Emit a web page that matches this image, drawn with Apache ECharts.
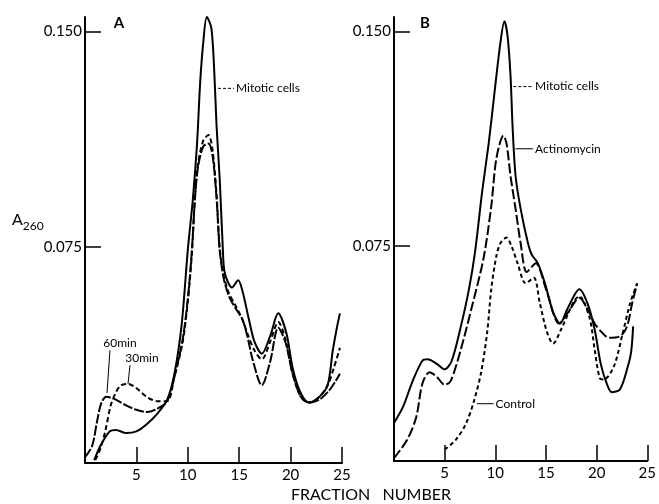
<!DOCTYPE html>
<html>
<head>
<meta charset="utf-8">
<script src="https://cdn.jsdelivr.net/npm/echarts@6/dist/echarts.min.js"></script>
<style>
  html, body { margin: 0; background: #fff; }
  #chart { width: 659px; height: 504px; }
</style>
</head>
<body>
<div id="chart"></div>
<script>
  // [fraction number, A260]
  const aMitotic = [[0.9,0.001],[1.5,0.006],[2.4,0.011],[3,0.0115],[4,0.0104],[5,0.011],[6,0.0135],[7,0.017],[8,0.022],[8.7,0.031],[9.4,0.048],[10,0.074],[10.5,0.092],[10.9,0.111],[11.2,0.132],[11.5,0.146],[11.85,0.155],[12.3,0.151],[12.6,0.134],[12.8,0.117],[13.1,0.099],[13.4,0.075],[13.6,0.066],[14.3,0.061],[14.9,0.0635],[15.3,0.060],[16.0,0.049],[16.5,0.042],[17.2,0.038],[18.0,0.044],[18.8,0.052],[19.6,0.045],[20.2,0.033],[20.9,0.025],[21.8,0.021],[22.8,0.023],[23.6,0.027],[24.1,0.039],[24.5,0.047],[24.8,0.052]];
  const a60min = [[0,0.002],[0.7,0.006],[1.2,0.015],[1.6,0.021],[2.1,0.023],[3,0.022],[4,0.020],[5,0.0185],[6,0.0177],[7,0.0188],[8,0.0215],[8.7,0.030],[9.5,0.043],[10,0.057],[10.4,0.074],[10.7,0.092],[11.0,0.103],[11.5,0.110],[12.0,0.111],[12.4,0.107],[12.8,0.092],[13.1,0.074],[13.5,0.064],[14.0,0.058],[14.6,0.054],[15.3,0.050],[15.8,0.044],[16.3,0.036],[17.2,0.027],[18.0,0.035],[18.8,0.047],[19.5,0.042],[20.2,0.031],[21.0,0.023],[21.8,0.021],[22.8,0.022],[23.7,0.025],[24.3,0.028],[24.8,0.031]];
  const a30min = [[1.0,0.001],[1.5,0.005],[2.0,0.0115],[2.5,0.020],[3.0,0.0245],[3.5,0.027],[4.2,0.0275],[5,0.026],[6,0.023],[7,0.0215],[8,0.0215],[8.7,0.030],[9.5,0.042],[10,0.056],[10.4,0.073],[10.7,0.093],[11.0,0.104],[11.5,0.112],[12.0,0.114],[12.4,0.109],[12.8,0.093],[13.1,0.075],[13.5,0.065],[14.0,0.059],[14.6,0.055],[15.3,0.050],[15.8,0.045],[16.5,0.039],[17.2,0.036],[18.0,0.042],[18.8,0.049],[19.5,0.043],[20.2,0.031],[21.0,0.023],[21.8,0.021],[22.8,0.023],[23.6,0.027],[24.2,0.033],[24.8,0.040]];

  const bMitotic = [[0,0.0133],[0.9,0.019],[1.85,0.028],[2.8,0.035],[3.3,0.0355],[4.2,0.034],[5.0,0.032],[5.7,0.035],[6.6,0.047],[7.4,0.060],[8.0,0.073],[8.7,0.094],[9.35,0.111],[9.9,0.128],[10.5,0.146],[10.9,0.1535],[11.2,0.1486],[11.5,0.1346],[11.7,0.117],[12.0,0.0995],[12.5,0.088],[13.2,0.0764],[13.6,0.072],[14.2,0.069],[14.9,0.062],[15.7,0.052],[16.4,0.048],[17.1,0.053],[18.3,0.060],[19.1,0.055],[19.8,0.046],[20.4,0.034],[21.0,0.027],[21.5,0.024],[22.3,0.025],[23.0,0.032],[23.4,0.038],[23.6,0.047]];
  const bActinomycin = [[0,0.001],[1.3,0.0074],[2.2,0.0154],[2.8,0.027],[3.5,0.031],[4.2,0.0295],[5.0,0.0266],[5.6,0.028],[6.6,0.039],[7.7,0.054],[8.85,0.071],[9.6,0.089],[10.1,0.1055],[10.8,0.1136],[11.1,0.111],[11.5,0.0995],[12.0,0.088],[12.5,0.076],[13.1,0.066],[14.0,0.069],[15.0,0.060],[16.3,0.048],[17.2,0.052],[18.3,0.057],[19.1,0.053],[19.8,0.048],[20.5,0.045],[21.2,0.043],[22.3,0.0435],[23.0,0.047],[23.5,0.055],[24.0,0.062]];
  const bControl = [[5.0,0.004],[6.1,0.0074],[7.1,0.013],[7.9,0.021],[8.6,0.031],[9.2,0.045],[9.6,0.060],[10.1,0.0715],[10.5,0.076],[11.1,0.078],[11.6,0.075],[12.2,0.069],[13.0,0.062],[13.8,0.064],[14.4,0.055],[15.1,0.045],[15.7,0.041],[16.5,0.046],[17.8,0.056],[18.3,0.0575],[19.3,0.050],[19.8,0.039],[20.3,0.029],[20.7,0.0284],[21.7,0.033],[22.6,0.045],[23.3,0.055],[24.0,0.062]];

  const xTicks = [5, 10, 15, 20, 25];
  const yTicks = [0.075, 0.150];

  const FONT = 'Lato';
  let chart = echarts.init(document.getElementById('chart'));

  function xAxisOf(i) {
    return {
      gridIndex: i, type: 'value', min: 0, max: 25,
      axisLine: { lineStyle: { color: '#000', width: 2 } },
      axisTick: { inside: true, length: 16, customValues: xTicks, lineStyle: { color: '#000', width: 1.5 } },
      axisLabel: { customValues: xTicks, color: '#000', fontSize: 15, fontFamily: FONT, margin: 5 },
      splitLine: { show: false }
    };
  }
  function yAxisOf(i) {
    return {
      gridIndex: i, type: 'value', min: 0, max: 0.155,
      axisLine: { show: true, lineStyle: { color: '#000', width: 2 } },
      axisTick: { show: true, inside: true, length: 16, customValues: yTicks, lineStyle: { color: '#000', width: 1.5 } },
      axisLabel: { customValues: yTicks, color: '#000', fontSize: 15, fontFamily: FONT, margin: 3,
        formatter: v => v.toFixed(3) },
      splitLine: { show: false }
    };
  }
  function curve(i, data, dash) {
    return {
      type: 'line', xAxisIndex: i, yAxisIndex: i, data: data,
      showSymbol: false, smooth: 0.3, clip: false,
      lineStyle: { color: '#000', width: 2, type: dash }
    };
  }

  chart.setOption({
    animation: false,
    grid: [
      { left: 85, right: 317, top: 17, bottom: 41 },
      { left: 394, right: 8, top: 17, bottom: 43 }
    ],
    xAxis: [xAxisOf(0), xAxisOf(1)],
    yAxis: [yAxisOf(0), yAxisOf(1)],
    series: [
      curve(0, aMitotic, 'solid'),
      curve(0, a60min, [10, 2]),
      curve(0, a30min, [5, 3]),
      curve(1, bMitotic, 'solid'),
      curve(1, bActinomycin, [10, 3]),
      curve(1, bControl, [4, 3])
    ]
  });

  // annotations placed in data coordinates
  const notes = [
    { g: 0, text: 'Mitotic cells', from: [12.94, 0.1302], to: [14.49, 0.1302], dash: [3, 2] },
    { g: 1, text: 'Mitotic cells', from: [11.78, 0.1307], to: [13.73, 0.1307], dash: [3, 2] },
    { g: 1, text: 'Actinomycin', from: [11.98, 0.109], to: [13.73, 0.109], dash: 'solid' },
    { g: 1, text: 'Control', from: [8.18, 0.020], to: [9.83, 0.020], dash: 'solid' }
  ];
  const tags = [
    { g: 0, text: '60min', at: [3.40, 0.0417], from: [2.43, 0.0392], to: [2.14, 0.0243] },
    { g: 0, text: '30min', at: [5.54, 0.0365], from: [4.38, 0.0340], to: [4.18, 0.0274] }
  ];

  let px = (g, p) => chart.convertToPixel({ xAxisIndex: g, yAxisIndex: g }, p);
  let graphic = [];
  notes.forEach(n => {
    let a = px(n.g, n.from), b = px(n.g, n.to);
    graphic.push({ type: 'line', shape: { x1: a[0], y1: a[1], x2: b[0], y2: b[1] },
      style: { stroke: '#000', lineWidth: 1, lineDash: n.dash === 'solid' ? null : n.dash } });
    graphic.push({ type: 'text', x: b[0] + 2, y: b[1],
      style: { text: n.text, font: '12px ' + FONT, fill: '#000', verticalAlign: 'middle' } });
  });
  tags.forEach(t => {
    let a = px(t.g, t.from), b = px(t.g, t.to), c = px(t.g, t.at);
    graphic.push({ type: 'line', shape: { x1: a[0], y1: a[1], x2: b[0], y2: b[1] },
      style: { stroke: '#000', lineWidth: 1 } });
    graphic.push({ type: 'text', x: c[0], y: c[1],
      style: { text: t.text, font: '12px ' + FONT, fill: '#000', align: 'center', verticalAlign: 'middle' } });
  });
  // panel letters, y name, x name
  graphic.push({ type: 'text', x: 119, y: 23, style: { text: 'A', font: 'bold 15px ' + FONT, fill: '#000', align: 'center', verticalAlign: 'middle' } });
  graphic.push({ type: 'text', x: 425, y: 23, style: { text: 'B', font: 'bold 15px ' + FONT, fill: '#000', align: 'center', verticalAlign: 'middle' } });
  graphic.push({ type: 'text', x: 12, y: 222, style: {
    text: '{a|A}{s|260}', fill: '#000', verticalAlign: 'middle',
    rich: { a: { fontSize: 16, fontFamily: FONT, verticalAlign: 'top' }, s: { fontSize: 12, fontFamily: FONT, padding: [9, 0, 0, 0] } }
  } });
  graphic.push({ type: 'text', x: 371, y: 495, style: { text: 'FRACTION   NUMBER', font: '16px ' + FONT, fill: '#000', align: 'center', verticalAlign: 'middle' } });

  chart.setOption({ graphic: graphic });
</script>
</body>
</html>
